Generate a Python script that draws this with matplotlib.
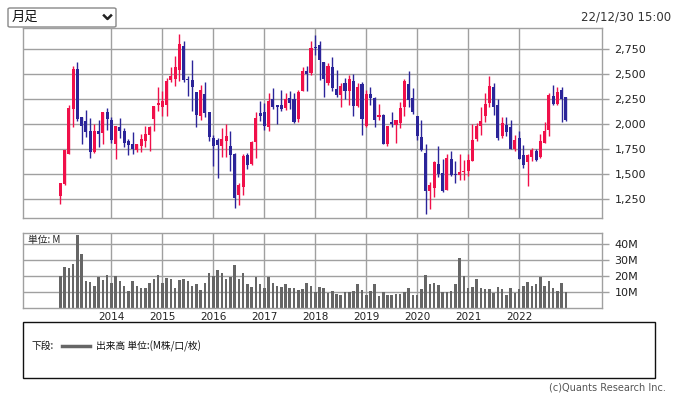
import matplotlib
matplotlib.use('Agg')
import matplotlib.pyplot as plt
from matplotlib.patches import Rectangle, FancyBboxPatch
from matplotlib.lines import Line2D
import numpy as np

# monthly candles, Jan 2013 .. Dec 2022
opens = [1277, 1403, 1703, 2153, 2550, 2070, 2027, 1930, 1720, 1930,
         1913, 2120, 2040, 1803, 1970, 1930, 1833, 1800, 1743, 1783,
         1833, 1893, 2053, 2187, 2167, 2193, 2443, 2450, 2543, 2780,
         2450, 2440, 2320, 2083, 2300, 2120, 1860, 1840, 1783, 1833,
         1780, 1700, 1293, 1373, 1687, 1603, 1817, 2110, 2120, 1967,
         2250, 2190, 2190, 2160, 2260, 2253, 2053, 2333, 2533, 2513,
         2770, 2787, 2620, 2410, 2567, 2350, 2293, 2410, 2327, 2427,
         2183, 2400, 1983, 2300, 2260, 2070, 2090, 1803, 2017, 1993,
         2013, 2170, 2400, 2260, 2083, 1870, 1710, 1327, 1360, 1600,
         1510, 1343, 1650, 1503, 1493, 1520, 1533, 1633, 1853, 1983,
         2083, 2210, 2370, 2190, 1883, 1990, 1970, 1753, 1860, 1693,
         1617, 1673, 1733, 1673, 1810, 1943, 2277, 2200, 2340, 2270]
highs = [1410, 1743, 2187, 2583, 2620, 2070, 2140, 2060, 1997, 2043,
         2120, 2160, 2067, 1983, 2060, 1960, 1853, 1920, 1800, 1900,
         1980, 1977, 2180, 2367, 2327, 2460, 2567, 2680, 2900, 2827,
         2477, 2640, 2320, 2387, 2420, 2120, 1887, 1860, 1960, 2000,
         1930, 1710, 1407, 1700, 1707, 1827, 2120, 2227, 2210, 2310,
         2360, 2190, 2343, 2310, 2327, 2310, 2340, 2570, 2583, 2833,
         2893, 2833, 2620, 2610, 2670, 2540, 2410, 2460, 2493, 2500,
         2410, 2420, 2340, 2367, 2267, 2200, 2100, 1983, 2120, 2040,
         2220, 2453, 2527, 2360, 2083, 2040, 1800, 1420, 1633, 1783,
         1650, 1700, 1733, 1627, 1700, 1640, 1700, 2000, 2007, 2173,
         2310, 2480, 2410, 2250, 2067, 2073, 2040, 1893, 1927, 1787,
         1697, 1760, 1753, 1900, 2020, 2307, 2387, 2367, 2367, 2270]
lows = [1203, 1393, 1700, 1973, 2027, 1803, 1873, 1663, 1710, 1770,
        1803, 1943, 1810, 1653, 1860, 1770, 1693, 1700, 1720, 1720,
        1767, 1727, 1927, 2127, 2083, 2083, 2417, 2383, 2433, 2417,
        2283, 2127, 1967, 2043, 2067, 1827, 1583, 1457, 1667, 1667,
        1533, 1160, 1193, 1293, 1553, 1587, 1660, 2027, 1943, 1927,
        2153, 2003, 2133, 2143, 2153, 2010, 2020, 2330, 2333, 2493,
        2690, 2437, 2270, 2393, 2333, 2267, 2170, 2253, 2193, 2077,
        2167, 1893, 1967, 2193, 1970, 2043, 1800, 1783, 1970, 1810,
        1963, 2083, 2170, 2103, 1837, 1733, 1103, 1150, 1270, 1470,
        1323, 1343, 1480, 1407, 1443, 1443, 1477, 1630, 1827, 1893,
        2020, 2170, 2093, 1843, 1860, 1877, 1753, 1727, 1653, 1560,
        1383, 1627, 1627, 1660, 1810, 1883, 2193, 2193, 2017, 2033]
closes = [1410, 1743, 2160, 2550, 2053, 1983, 1923, 1723, 1930, 1900,
          2120, 2053, 1843, 1980, 1933, 1810, 1793, 1747, 1800, 1850,
          1900, 1970, 2180, 2213, 2233, 2433, 2483, 2570, 2800, 2443,
          2443, 2370, 2093, 2340, 2107, 1867, 1777, 1793, 1850, 1880,
          1693, 1260, 1393, 1683, 1593, 1817, 2060, 2083, 1983, 2227,
          2170, 2173, 2153, 2250, 2213, 2020, 2317, 2533, 2503, 2760,
          2760, 2643, 2453, 2583, 2360, 2293, 2377, 2327, 2450, 2183,
          2367, 2053, 2300, 2260, 2043, 2090, 1803, 1983, 2003, 2040,
          2160, 2433, 2243, 2120, 1883, 1743, 1333, 1393, 1620, 1503,
          1333, 1660, 1487, 1487, 1520, 1530, 1640, 1840, 1983, 2027,
          2200, 2380, 2167, 1860, 2010, 1917, 1753, 1840, 1653, 1593,
          1690, 1743, 1643, 1827, 1933, 2290, 2200, 2320, 2250, 2040]
volume = [20.2, 25.8, 24.8, 27.7, 45.8, 34, 17.1, 16.5, 14, 19.6,
          17.7, 20.8, 15.8, 20.2, 17.1, 14, 10.8, 17.1, 14, 12.7,
          12.7, 15.8, 18.3, 20.8, 15.8, 19, 18.3, 12.7, 17.7, 18.3,
          17.1, 14, 15.2, 11.5, 15.8, 22.1, 20.2, 24, 22.1, 18.3,
          19.6, 27.1, 18.3, 22.1, 15.2, 13.3, 19.6, 15.2, 12.7, 19.6,
          15.8, 14, 13.3, 15.2, 12.7, 12.7, 11.5, 12.1, 15.8, 14,
          10.2, 13.3, 12.7, 9.6, 10.8, 9, 8.3, 10.2, 10.2, 10.8,
          15.2, 11.5, 8.3, 10.8, 15.2, 7.7, 10.2, 8.3, 8.3, 9,
          9, 10.2, 12.7, 8.3, 8.3, 12.1, 20.8, 15.2, 15.8, 14.6,
          10.2, 10.2, 10.8, 15.2, 31.5, 20.2, 12.7, 13.3, 18.3, 12.7,
          12.1, 12.1, 9.6, 13.3, 12.1, 8.3, 12.7, 9.6, 12.1, 14,
          16.5, 14, 15.2, 19.6, 14, 17.1, 12.7, 10.8, 15.8, 10.2]
years = ['2014', '2015', '2016', '2017', '2018', '2019', '2020', '2021', '2022']
price_ticks = [1250, 1500, 1750, 2000, 2250, 2500, 2750]
vol_ticks = [10, 20, 30, 40]

UP = '#f0104a'
DOWN = '#2b2499'
GRID = '#a0a0a0'
JP = ['Noto Sans CJK JP', 'DejaVu Sans']

o = np.array(opens); h = np.array(highs); l = np.array(lows); c = np.array(closes)
x = np.arange(len(opens))
cols = [UP if cc >= oo else DOWN for oo, cc in zip(o, c)]
year_pos = [12 * (k + 1) for k in range(len(years))]
xlim = (-8.8, 127.5)

fig = plt.figure(figsize=(6.75, 3.96), dpi=100)

def style(ax):
    for s in ax.spines.values():
        s.set_color(GRID)
        s.set_linewidth(1)
    ax.grid(True, color=GRID, linewidth=1)
    ax.set_axisbelow(True)
    ax.yaxis.tick_right()
    ax.tick_params(axis='y', colors=GRID, length=5, width=1, pad=4, labelcolor='#222222', labelsize=8)
    ax.set_xlim(*xlim)
    ax.set_xticks(year_pos)

# price panel
ax = fig.add_axes([23/675, 1-218/396, 579/675, 190/396])
style(ax)
ax.vlines(x, l, h, colors=cols, linewidth=1)
body = np.maximum(np.abs(c - o), 6)
ax.bar(x, body, bottom=np.minimum(o, c), width=0.72, color=cols, linewidth=0)
ax.set_ylim(1060, 2960)
ax.set_yticks(price_ticks)
ax.set_yticklabels([f'{v:,}' for v in price_ticks])
ax.tick_params(axis='x', length=0, labelbottom=False)

# volume panel
av = fig.add_axes([23/675, 1-308/396, 579/675, 75/396])
style(av)
av.bar(x, volume, width=0.6, color='#666666', linewidth=0)
av.set_ylim(0, 47)
av.set_yticks(vol_ticks)
av.set_yticklabels([f'{v}M' for v in vol_ticks])
av.set_xticklabels(years)
av.tick_params(axis='x', length=0, pad=3, labelsize=7.5, labelcolor='#222222')
av.text(0.008, 0.97, '単位: M', transform=av.transAxes, ha='left', va='top',
        fontsize=7, family=JP, color='#222222')

# dropdown & timestamp
fig.patches.append(FancyBboxPatch((8/675, 1-27/396), 108/675, 19/396,
                                  boxstyle='round,pad=0,rounding_size=0.003',
                                  transform=fig.transFigure, fill=False,
                                  edgecolor='#888888', linewidth=1))
fig.text(12/675, 1-17.5/396, '月足', ha='left', va='center', fontsize=9.5, family=JP, color='#111111')
fig.lines.append(Line2D([104/675, 107.5/675, 111/675], [1-15.5/396, 1-19/396, 1-15.5/396],
                        transform=fig.transFigure, color='#222222', linewidth=1.8))
fig.text(671/675, 1-17/396, '22/12/30 15:00', ha='right', va='center', fontsize=8.5, color='#333333')

# legend box
fig.patches.append(Rectangle((23/675, 1-378/396), 632/675, 56/396, transform=fig.transFigure,
                             fill=False, edgecolor='#111111', linewidth=1))
fig.text(32/675, 1-346/396, '下段:', ha='left', va='center', fontsize=7, family=JP, color='#111111')
fig.lines.append(Line2D([62/675, 90/675], [1-346/396, 1-346/396], transform=fig.transFigure,
                        color='#666666', linewidth=2.5))
fig.text(96/675, 1-346/396, '出来高 単位:(M株/口/枚)', ha='left', va='center', fontsize=7,
         family=JP, color='#111111')
fig.text(666/675, 1-387/396, '(c)Quants Research Inc.', ha='right', va='center', fontsize=7, color='#555555')

fig.savefig('out.png', dpi=100)
